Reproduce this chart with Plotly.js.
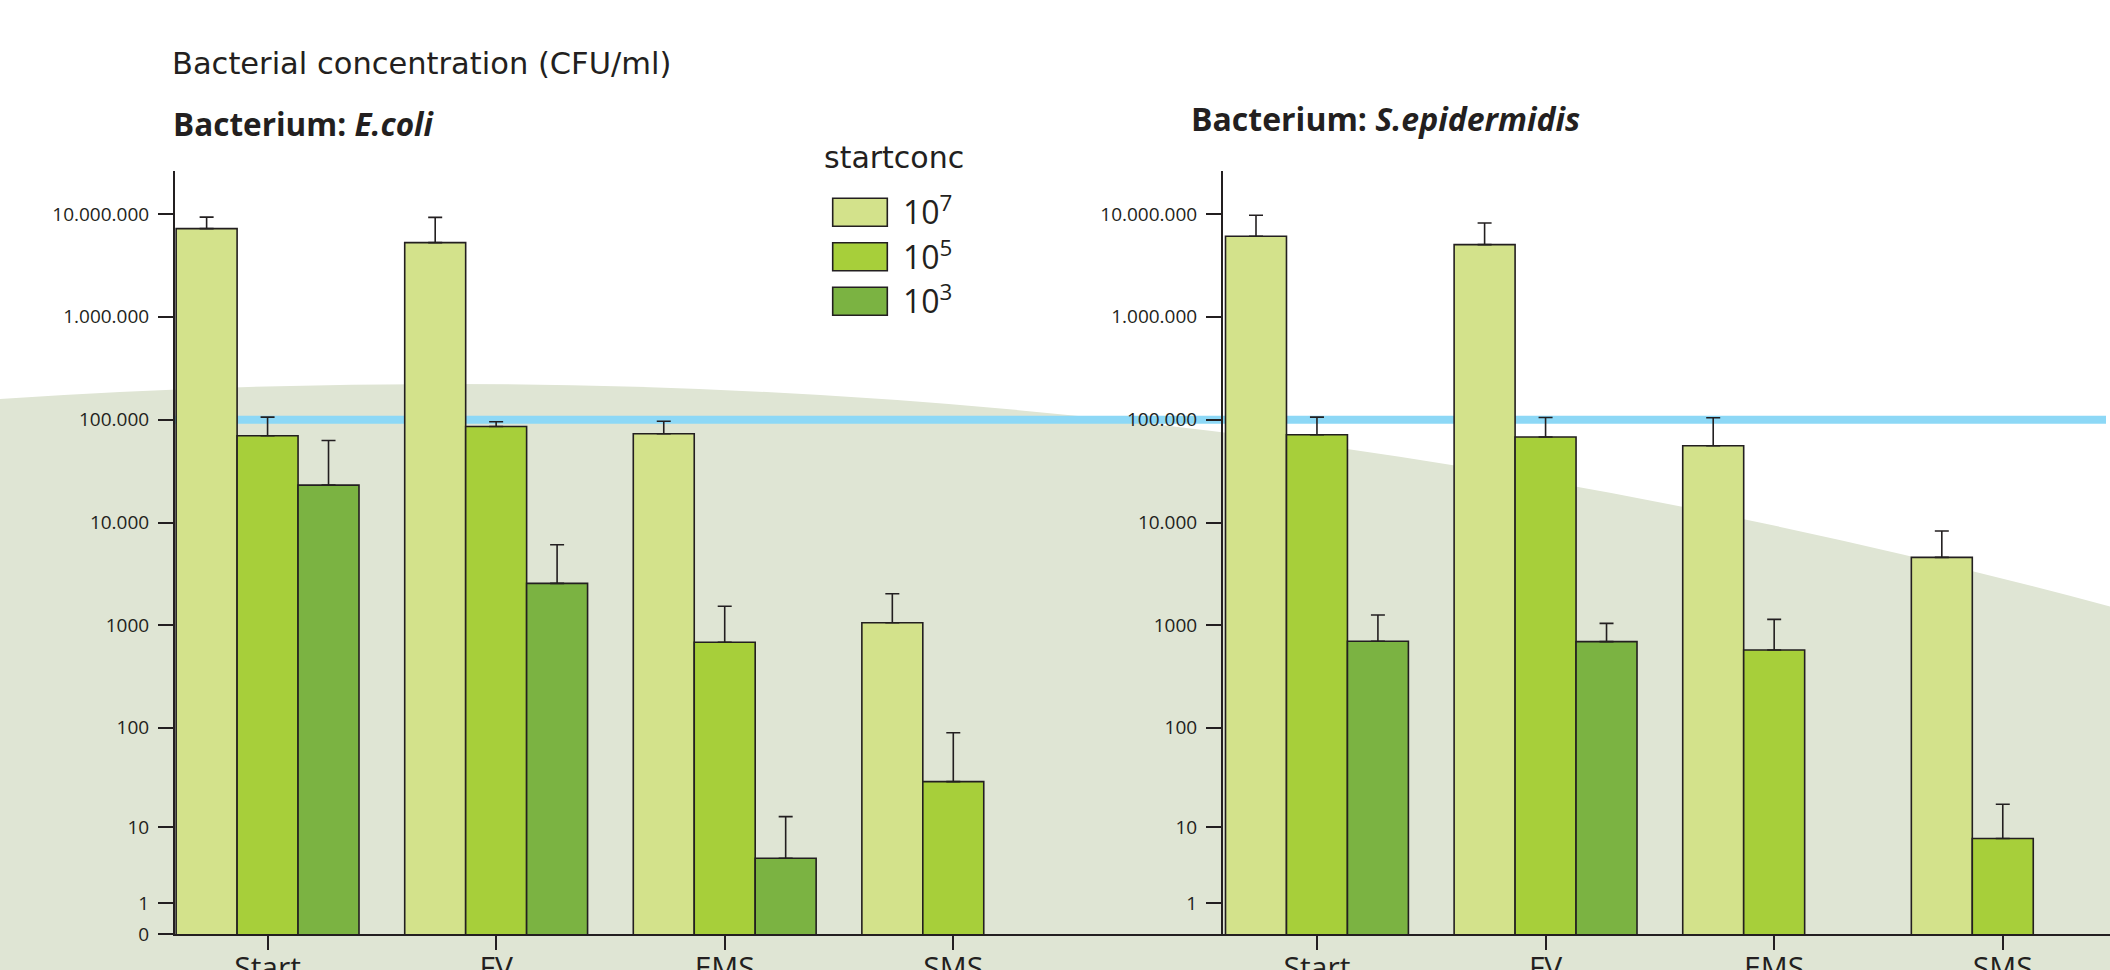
<!DOCTYPE html>
<html><head><meta charset="utf-8">
<script src="https://cdn.plot.ly/plotly-3.0.1.min.js"></script>
<style>html,body{margin:0;padding:0;background:#fff;overflow:hidden}</style>
</head><body><div id="chart" style="width:2110px;height:970px"></div>
<script>
// ---------- data ----------
const categories = ['Start', 'FV', 'EMS', 'SMS'];
const seriesLabels = ['10<sup>7</sup>', '10<sup>5</sup>', '10<sup>3</sup>'];

// E.coli (CFU/ml) and upper error
const ecoli_1e7     = [7200000, 5260000, 73000, 1060];
const ecoli_1e7_err = [2100000, 4000000, 23500, 970];
const ecoli_1e5     = [69700, 85800, 684, 29.3];
const ecoli_1e5_err = [36000, 9500, 850, 60];
const ecoli_1e3     = [23100, 2560, 4.45, null];
const ecoli_1e3_err = [39600, 3520, 8.4, null];

// S.epidermidis (CFU/ml) and upper error
const sepi_1e7     = [6070000, 5030000, 55700, 4580];
const sepi_1e7_err = [3640000, 3140000, 48500, 3680];
const sepi_1e5     = [71300, 67700, 576, 7.47];
const sepi_1e5_err = [34600, 37300, 567, 9.8];
const sepi_1e3     = [699, 694, null, null];
const sepi_1e3_err = [563, 352, null, null];

const tickValues = [0, 1, 10, 100, 1000, 10000, 100000, 1000000, 10000000];
const tickLabels = ['0', '1', '10', '100', '1000', '10.000', '100.000', '1.000.000', '10.000.000'];
const thresholdValue = 100000;

// ---------- styling ----------
const W = 2110, H = 970;
const colors = ['#d3e28b', '#a7cf3a', '#7bb342'];
const ink = '#231f20';
const FONT = 'Open Sans, sans-serif';
const WIDE = 'DejaVu Sans, sans-serif';
const px = x => x / W;
const py = y => 1 - y / H;

// axis is log10(value + 1)
const shift = v => (v == null ? null : v + 1);

function barTrace(vals, errs, i, xa, ya) {
  return {
    type: 'bar', x: categories, y: vals.map(shift),
    xaxis: xa, yaxis: ya, showlegend: false, hoverinfo: 'skip',
    marker: {color: colors[i], line: {color: ink, width: 1.6}},
    error_y: {type: 'data', symmetric: false, array: errs.map(e => e == null ? 0 : e),
              arrayminus: errs.map(() => 0), color: ink, thickness: 1.6, width: 7}
  };
}

const data = [
  barTrace(ecoli_1e7, ecoli_1e7_err, 0, 'x', 'y'),
  barTrace(ecoli_1e5, ecoli_1e5_err, 1, 'x', 'y'),
  barTrace(ecoli_1e3, ecoli_1e3_err, 2, 'x', 'y'),
  barTrace(sepi_1e7, sepi_1e7_err, 0, 'x2', 'y2'),
  barTrace(sepi_1e5, sepi_1e5_err, 1, 'x2', 'y2'),
  barTrace(sepi_1e3, sepi_1e3_err, 2, 'x2', 'y2')
];

const yDomain = [py(934), py(170.7)];
function yAxis(anchor, withZero) {
  const vals = withZero ? tickValues : tickValues.slice(1);
  const txt = withZero ? tickLabels : tickLabels.slice(1);
  return {
    type: 'log', range: [0, 7.42], domain: yDomain, anchor: anchor,
    tickmode: 'array', tickvals: vals.map(shift), ticktext: txt,
    showline: true, linecolor: ink, linewidth: 2,
    ticks: 'outside', ticklen: 15, tickwidth: 2, tickcolor: ink,
    tickfont: {family: FONT, size: 19, color: ink},
    showgrid: false, zeroline: false, automargin: false, fixedrange: true,
    ticklabelstandoff: 5
  };
}
function xAxis(anchor, domain, range) {
  return {
    type: 'category', domain: domain, range: range, anchor: anchor,
    showline: true, linecolor: ink, linewidth: 2,
    ticks: 'outside', ticklen: 14, tickwidth: 2, tickcolor: ink,
    tickfont: {family: FONT, size: 30, color: ink},
    showgrid: false, zeroline: false, automargin: false, fixedrange: true,
    ticklabelstandoff: -8
  };
}

const hillPath = 'M ' + px(0) + ',' + py(975) +
  ' L ' + px(0) + ',' + py(399) +
  ' Q ' + px(225) + ',' + py(384) + ' ' + px(450) + ',' + py(384) +
  ' Q ' + px(1280) + ',' + py(384) + ' ' + px(2112) + ',' + py(607) +
  ' L ' + px(2112) + ',' + py(975) + ' Z';

const shapes = [
  {type: 'path', xref: 'paper', yref: 'paper', path: hillPath, fillcolor: '#dfe5d4',
   line: {width: 0}, layer: 'below'},
  {type: 'line', xref: 'paper', yref: 'y', x0: px(175), x1: px(2106),
   y0: shift(thresholdValue), y1: shift(thresholdValue),
   line: {color: '#8dd8f6', width: 8}, layer: 'below'}
];

// manual legend
const legendBoxTop = [198.3, 242.7, 287.3];
const annotations = [
  {xref: 'paper', yref: 'paper', x: px(170), y: py(64), xanchor: 'left', yanchor: 'middle',
   text: 'Bacterial concentration (CFU/ml)', showarrow: false,
   font: {family: WIDE, size: 30.5, color: ink}},
  {xref: 'paper', yref: 'paper', x: px(171), y: py(124), xanchor: 'left', yanchor: 'middle',
   text: '<b>Bacterium: <i>E.coli</i></b>', showarrow: false,
   font: {family: FONT, size: 31.5, color: ink}},
  {xref: 'paper', yref: 'paper', x: px(1189), y: py(118), xanchor: 'left', yanchor: 'middle',
   text: '<b>Bacterium: <i>S.epidermidis</i></b>', showarrow: false,
   font: {family: FONT, size: 32, color: ink}},
  {xref: 'paper', yref: 'paper', x: px(822), y: py(158), xanchor: 'left', yanchor: 'middle',
   text: 'startconc', showarrow: false, font: {family: WIDE, size: 30, color: ink}}
];
seriesLabels.forEach((lab, i) => {
  const t = legendBoxTop[i];
  shapes.push({type: 'rect', xref: 'paper', yref: 'paper', x0: px(832.7), x1: px(887.3),
    y0: py(t + 28), y1: py(t), fillcolor: colors[i], line: {color: ink, width: 1.6}});
  annotations.push({xref: 'paper', yref: 'paper', x: px(901), y: py(t + 12), xanchor: 'left',
    yanchor: 'middle', text: lab, showarrow: false, font: {family: FONT, size: 32, color: ink}});
});

const layout = {
  width: W, height: H, margin: {l: 0, r: 0, t: 0, b: 0},
  paper_bgcolor: '#ffffff', plot_bgcolor: 'rgba(0,0,0,0)',
  barmode: 'group', bargap: 0.2, bargroupgap: 0,
  showlegend: false,
  xaxis: xAxis('y', [px(175), px(1223)], [-0.405, 4.18]),
  yaxis: yAxis('x', true),
  xaxis2: xAxis('y2', [px(1223), 1], [-0.411, 3.469]),
  yaxis2: yAxis('x2', false),
  shapes: shapes, annotations: annotations
};

Plotly.newPlot('chart', data, layout, {displayModeBar: false, staticPlot: true});
</script></body></html>
